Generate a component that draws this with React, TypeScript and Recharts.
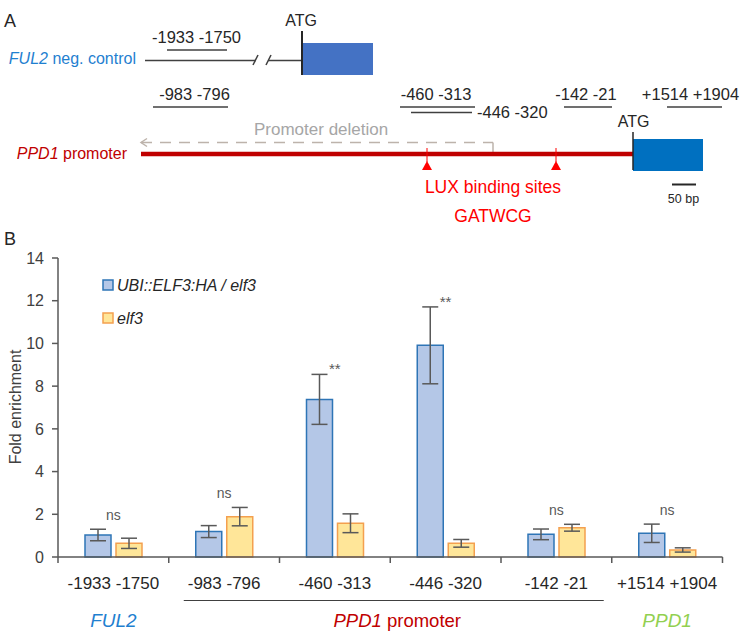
import React from 'react';
import { ComposedChart, Bar, Line, XAxis, YAxis, ErrorBar, Customized } from 'recharts';

const categories = ['-1933 -1750', '-983 -796', '-460 -313', '-446 -320', '-142 -21', '+1514 +1904'];
const ubiValues = [1.03, 1.19, 7.38, 9.91, 1.06, 1.11];
const ubiErrors = [0.27, 0.28, 1.17, 1.8, 0.25, 0.43];
const elf3Values = [0.64, 1.89, 1.58, 0.64, 1.37, 0.33];
const elf3Errors = [0.24, 0.43, 0.44, 0.18, 0.16, 0.1];
const significance = ['ns', 'ns', '**', '**', 'ns', 'ns'];
const yTicks = [0, 2, 4, 6, 8, 10, 12, 14];
const seriesNames = ['UBI::ELF3:HA / elf3', 'elf3'];

const FONT = '"Liberation Sans", Arial, sans-serif';
const AXIS = '#595959';
const BLUE_FILL = '#b4c7e7';
const BLUE_STROKE = '#2e75b6';
const ORANGE_FILL = '#ffe699';
const ORANGE_STROKE = '#f4a04f';

const data = categories.map((c, i) => ({
  name: c,
  ubi: ubiValues[i],
  ubiErr: ubiErrors[i],
  elf3: elf3Values[i],
  elf3Err: elf3Errors[i],
  sigTop: Math.max(ubiValues[i] + ubiErrors[i], elf3Values[i] + elf3Errors[i]),
}));

const XTick = (props: any) => {
  const { x, y, payload } = props;
  const index = payload?.index ?? props.index ?? 0;
  const half = payload?.offset ?? 55.4;
  const ay = y - 6;
  const items: any[] = [];
  items.push(<line key="tl" x1={x - half} x2={x - half} y1={ay} y2={ay + 6} stroke={AXIS} strokeWidth={1.5} />);
  if (index === categories.length - 1) {
    items.push(<line key="tr" x1={x + half} x2={x + half} y1={ay} y2={ay + 6} stroke={AXIS} strokeWidth={1.5} />);
  }
  items.push(
    <text key="lbl" x={x} y={ay + 32} textAnchor="middle" fontSize={17} fill="#262626" fontFamily={FONT}>
      {payload.value}
    </text>
  );
  if (index === 0) {
    items.push(
      <text key="g0" x={x} y={ay + 70} textAnchor="middle" fontSize={19} fill="#1f80d0" fontStyle="italic" fontFamily={FONT}>
        FUL2
      </text>
    );
  }
  if (index === 1) {
    items.push(
      <line key="ul" x1={x - half + 15} x2={x - half + 8 * half - 8} y1={ay + 43.5} y2={ay + 43.5} stroke="#404040" strokeWidth={1} />
    );
  }
  if (index === 3) {
    items.push(
      <text key="g1" x={x - half + 7} y={ay + 70} textAnchor="middle" fontSize={18.5} fill="#c00000" fontFamily={FONT}>
        <tspan fontStyle="italic">PPD1</tspan> promoter
      </text>
    );
  }
  if (index === 5) {
    items.push(
      <text key="g2" x={x} y={ay + 70} textAnchor="middle" fontSize={19} fill="#92d050" fontStyle="italic" fontFamily={FONT}>
        PPD1
      </text>
    );
  }
  return <g>{items}</g>;
};

const SigLabel = (props: any) => {
  const { x, y, index } = props;
  const s = significance[index];
  if (x == null || y == null) return null;
  return (
    <text x={x} y={s === '**' ? y : y - 9} textAnchor="middle" fontSize={s === '**' ? 15 : 14} fill="#595959" fontFamily={FONT}>
      {s}
    </text>
  );
};

const DiagramA = () => {
  const t = { fontFamily: FONT };
  return (
    <g>
      {/* panel letters */}
      <text x={4} y={27} fontSize={18} fill="#262626" {...t}>A</text>
      <text x={4} y={245} fontSize={18} fill="#262626" {...t}>B</text>

      {/* FUL2 neg. control */}
      <text x={301} y={26} textAnchor="middle" fontSize={16} fill="#262626" {...t}>ATG</text>
      <text x={196.5} y={43} textAnchor="middle" fontSize={16.5} fill="#262626" {...t}>-1933 -1750</text>
      <line x1={167} x2={227} y1={50} y2={50} stroke="#404040" strokeWidth={1.5} />
      <text x={136} y={64} textAnchor="end" fontSize={16} fill="#1f80d0" {...t}>
        <tspan fontStyle="italic">FUL2</tspan> neg. control
      </text>
      <line x1={145} x2={256} y1={60.5} y2={60.5} stroke="#404040" strokeWidth={1.5} />
      <line x1={268} x2={302} y1={60.5} y2={60.5} stroke="#404040" strokeWidth={1.5} />
      <line x1={253} x2={258} y1={65} y2={55} stroke="#404040" strokeWidth={1.5} />
      <line x1={266} x2={271} y1={65} y2={55} stroke="#404040" strokeWidth={1.5} />
      <rect x={302} y={43} width={71} height={32} fill="#4472c4" />
      <line x1={302} x2={302} y1={31} y2={75} stroke="#262626" strokeWidth={2} />

      {/* amplicons on PPD1 */}
      <text x={194.5} y={100} textAnchor="middle" fontSize={16.5} fill="#262626" {...t}>-983 -796</text>
      <line x1={153} x2={228} y1={107} y2={107} stroke="#404040" strokeWidth={1.5} />
      <text x={436} y={100} textAnchor="middle" fontSize={16.5} fill="#262626" {...t}>-460 -313</text>
      <line x1={400} x2={475} y1={107} y2={107} stroke="#404040" strokeWidth={1.5} />
      <line x1={411} x2={472} y1={112.5} y2={112.5} stroke="#404040" strokeWidth={1.5} />
      <text x={477} y={118} textAnchor="start" fontSize={16.5} fill="#262626" {...t}>-446 -320</text>
      <text x={586} y={100} textAnchor="middle" fontSize={16.5} fill="#262626" {...t}>-142 -21</text>
      <line x1={564} x2={612} y1={107} y2={107} stroke="#404040" strokeWidth={1.5} />
      <text x={690.5} y={100} textAnchor="middle" fontSize={16.5} fill="#262626" {...t}>+1514 +1904</text>
      <line x1={667} x2={722} y1={107} y2={107} stroke="#404040" strokeWidth={1.5} />

      {/* promoter deletion */}
      <text x={254} y={135} fontSize={17} fill="#a6a6a6" {...t}>Promoter deletion</text>
      <line x1={141} x2={493} y1={142.5} y2={142.5} stroke="#bdb3ab" strokeWidth={1.5} strokeDasharray="11 8" />
      <line x1={493} x2={493} y1={142.5} y2={152} stroke="#bdb3ab" strokeWidth={1.5} />
      <polyline points="147,138.5 141,142.5 147,146.5" fill="none" stroke="#bdb3ab" strokeWidth={1.5} />

      {/* PPD1 promoter */}
      <text x={127} y={159} textAnchor="end" fontSize={16} fill="#c00000" {...t}>
        <tspan fontStyle="italic">PPD1</tspan> promoter
      </text>
      <line x1={141} x2={633} y1={154} y2={154} stroke="#c00000" strokeWidth={4.5} />
      <line x1={427} x2={427} y1={148} y2={162} stroke="#ff0000" strokeWidth={1} />
      <polygon points="427,161 422,170 432,170" fill="#ff0000" />
      <line x1={556} x2={556} y1={148} y2={162} stroke="#ff0000" strokeWidth={1} />
      <polygon points="556,161 551,170 561,170" fill="#ff0000" />
      <text x={493} y={193} textAnchor="middle" fontSize={17.5} fill="#ff0000" {...t}>LUX binding sites</text>
      <text x={493} y={221.5} textAnchor="middle" fontSize={17.5} fill="#ff0000" {...t}>GATWCG</text>

      <text x={633.5} y={127} textAnchor="middle" fontSize={16} fill="#262626" {...t}>ATG</text>
      <rect x={633} y={139} width={70} height={32} fill="#0070c0" />
      <line x1={633} x2={633} y1={132} y2={170} stroke="#262626" strokeWidth={1.5} />

      <line x1={672} x2={696} y1={184.5} y2={184.5} stroke="#262626" strokeWidth={2} />
      <text x={683.5} y={203} textAnchor="middle" fontSize={12.5} fill="#262626" {...t}>50 bp</text>

      {/* y-axis label */}
      <text x={15} y={407} transform="rotate(-90 15 407)" textAnchor="middle" dominantBaseline="central" fontSize={16} fill="#404040" {...t}>
        Fold enrichment
      </text>

      {/* legend */}
      <rect x={103} y={280} width={10} height={10} fill={BLUE_FILL} stroke={BLUE_STROKE} strokeWidth={1.5} />
      <text x={117} y={290.5} fontSize={16} fontStyle="italic" fill="#262626" {...t}>{seriesNames[0]}</text>
      <rect x={103} y={313} width={10} height={10} fill={ORANGE_FILL} stroke={ORANGE_STROKE} strokeWidth={1.5} />
      <text x={117} y={324} fontSize={16} fontStyle="italic" fill="#262626" {...t}>{seriesNames[1]}</text>
    </g>
  );
};

export default function App() {
  return (
    <div style={{ position: 'absolute', left: 0, top: 0, background: '#fff' }}>
      <ComposedChart
        width={750}
        height={631}
        data={data}
        margin={{ top: 258, right: 27.5, bottom: 0, left: 0 }}
        barCategoryGap={27}
        barGap={5}
      >
        <Customized component={DiagramA} />
        <XAxis
          dataKey="name"
          height={74}
          interval={0}
          tickLine={false}
          tickSize={6}
          tickMargin={0}
          axisLine={{ stroke: AXIS, strokeWidth: 1.5 }}
          tick={<XTick />}
        />
        <YAxis
          width={58}
          domain={[0, 14]}
          ticks={yTicks}
          interval={0}
          tickSize={6}
          tickMargin={8}
          axisLine={{ stroke: AXIS, strokeWidth: 1.5 }}
          tickLine={{ stroke: AXIS, strokeWidth: 1.5 }}
          tick={{ fontSize: 16, fill: '#404040', fontFamily: FONT }}
        />
        <Bar dataKey="ubi" name={seriesNames[0]} fill={BLUE_FILL} stroke={BLUE_STROKE} strokeWidth={1.5} isAnimationActive={false}>
          <ErrorBar dataKey="ubiErr" width={8} stroke="#595959" strokeWidth={1.5} />
        </Bar>
        <Bar dataKey="elf3" name={seriesNames[1]} fill={ORANGE_FILL} stroke={ORANGE_STROKE} strokeWidth={1.5} isAnimationActive={false}>
          <ErrorBar dataKey="elf3Err" width={8} stroke="#595959" strokeWidth={1.5} />
        </Bar>
        <Line
          dataKey="sigTop"
          stroke="none"
          dot={false}
          activeDot={false}
          legendType="none"
          isAnimationActive={false}
          label={<SigLabel />}
        />
      </ComposedChart>
    </div>
  );
}
